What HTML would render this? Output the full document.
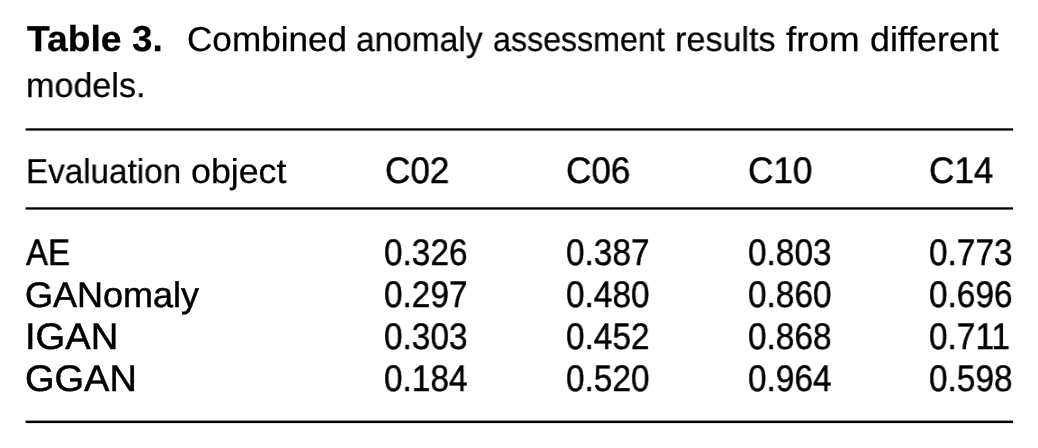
<!DOCTYPE html>
<html><head><meta charset="utf-8"><title>Table 3</title>
<style>
html,body{margin:0;padding:0;background:#fff}
body{width:1038px;height:448px;position:relative;overflow:hidden}
.t{position:absolute;white-space:nowrap;font-family:"Liberation Sans",sans-serif;color:#000;transform-origin:0 0;will-change:transform;text-rendering:geometricPrecision;-webkit-text-stroke:0.5px #000}
.b{font-weight:bold;-webkit-text-stroke:0.3px #000}
.l{-webkit-text-stroke:0.25px #000}
.rl{position:absolute;left:0;top:0}
</style></head><body>
<svg class="rl" width="1038" height="448" viewBox="0 0 1038 448"><rect x="25.6" y="128.3" width="987.5" height="2.3" fill="#000"/><rect x="25.6" y="207.3" width="987.5" height="2.3" fill="#000"/><rect x="25.6" y="420.6" width="987.5" height="2.5" fill="#000"/></svg>
<div class="t b" style="left:26.71px;top:21px;font-size:36px;line-height:36px;transform:scaleX(1.0342)">Table</div>
<div class="t b" style="left:132.29px;top:21px;font-size:36px;line-height:36px;transform:scaleX(1.0185)">3.</div>
<div class="t l" style="left:187.38px;top:23px;font-size:34.5px;line-height:34.5px;transform:scaleX(1.0180)">Combined</div>
<div class="t l" style="left:356.42px;top:23px;font-size:34.5px;line-height:34.5px;transform:scaleX(0.9702)">anomaly</div>
<div class="t l" style="left:492.87px;top:23px;font-size:34.5px;line-height:34.5px;transform:scaleX(0.9335)">assessment</div>
<div class="t l" style="left:675.06px;top:23px;font-size:34.5px;line-height:34.5px;transform:scaleX(0.9905)">results</div>
<div class="t l" style="left:786.35px;top:23px;font-size:34.5px;line-height:34.5px;transform:scaleX(1.0670)">from</div>
<div class="t l" style="left:870.07px;top:23px;font-size:34.5px;line-height:34.5px;transform:scaleX(1.0377)">different</div>
<div class="t l" style="left:25.55px;top:69px;font-size:34.5px;line-height:34.5px;transform:scaleX(0.9890)">models.</div>
<div class="t l" style="left:25.98px;top:155px;font-size:34.5px;line-height:34.5px;transform:scaleX(0.9626)">Evaluation</div>
<div class="t l" style="left:191.27px;top:155px;font-size:34.5px;line-height:34.5px;transform:scaleX(1.0367)">object</div>
<div class="t" style="left:384.68px;top:152px;font-size:37px;line-height:37px;transform:scaleX(0.9486)">C02</div>
<div class="t" style="left:566.38px;top:152px;font-size:37px;line-height:37px;transform:scaleX(0.9486)">C06</div>
<div class="t" style="left:747.68px;top:152px;font-size:37px;line-height:37px;transform:scaleX(0.9486)">C10</div>
<div class="t" style="left:929.38px;top:152px;font-size:37px;line-height:37px;transform:scaleX(0.9486)">C14</div>
<div class="t" style="left:26.05px;top:234px;font-size:37px;line-height:37px;transform:scaleX(0.8909)">AE</div>
<div class="t" style="left:25.04px;top:278px;font-size:35.5px;line-height:35.5px;transform:scaleX(1.0139)">GANomaly</div>
<div class="t" style="left:24.71px;top:318px;font-size:37px;line-height:37px;transform:scaleX(1.0313)">IGAN</div>
<div class="t" style="left:24.88px;top:360px;font-size:37px;line-height:37px;transform:scaleX(1.0265)">GGAN</div>
<div class="t" style="left:384.17px;top:234px;font-size:37px;line-height:37px;transform:scaleX(0.9023)">0.326</div>
<div class="t" style="left:565.87px;top:234px;font-size:37px;line-height:37px;transform:scaleX(0.9023)">0.387</div>
<div class="t" style="left:747.77px;top:234px;font-size:37px;line-height:37px;transform:scaleX(0.9023)">0.803</div>
<div class="t" style="left:928.87px;top:234px;font-size:37px;line-height:37px;transform:scaleX(0.9023)">0.773</div>
<div class="t" style="left:384.17px;top:276px;font-size:37px;line-height:37px;transform:scaleX(0.9023)">0.297</div>
<div class="t" style="left:565.87px;top:276px;font-size:37px;line-height:37px;transform:scaleX(0.9023)">0.480</div>
<div class="t" style="left:747.77px;top:276px;font-size:37px;line-height:37px;transform:scaleX(0.9023)">0.860</div>
<div class="t" style="left:928.87px;top:276px;font-size:37px;line-height:37px;transform:scaleX(0.9023)">0.696</div>
<div class="t" style="left:384.17px;top:318px;font-size:37px;line-height:37px;transform:scaleX(0.9023)">0.303</div>
<div class="t" style="left:565.87px;top:318px;font-size:37px;line-height:37px;transform:scaleX(0.9023)">0.452</div>
<div class="t" style="left:747.77px;top:318px;font-size:37px;line-height:37px;transform:scaleX(0.9023)">0.868</div>
<div class="t" style="left:928.87px;top:318px;font-size:37px;line-height:37px;transform:scaleX(0.9023)">0.711</div>
<div class="t" style="left:384.17px;top:360px;font-size:37px;line-height:37px;transform:scaleX(0.9023)">0.184</div>
<div class="t" style="left:565.87px;top:360px;font-size:37px;line-height:37px;transform:scaleX(0.9023)">0.520</div>
<div class="t" style="left:747.77px;top:360px;font-size:37px;line-height:37px;transform:scaleX(0.9023)">0.964</div>
<div class="t" style="left:928.87px;top:360px;font-size:37px;line-height:37px;transform:scaleX(0.9023)">0.598</div>
</body></html>
